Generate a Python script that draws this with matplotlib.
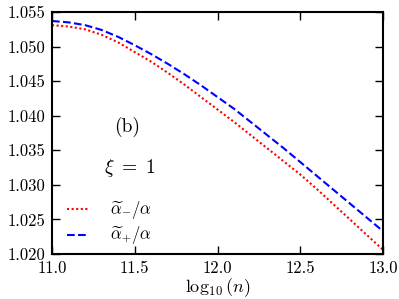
import matplotlib
matplotlib.use("Agg")
import matplotlib.pyplot as plt

plt.rcParams['font.family'] = 'serif'
plt.rcParams['font.serif'] = ['cmr10']
plt.rcParams['mathtext.fontset'] = 'cm'
plt.rcParams['axes.formatter.use_mathtext'] = True

log_n = [11.0, 11.1, 11.2, 11.3, 11.4, 11.5, 11.6, 11.7, 11.8, 11.9, 12.0,
         12.1, 12.2, 12.3, 12.4, 12.5, 12.6, 12.7, 12.8, 12.9, 13.0]
alpha_minus = [1.0531, 1.0529, 1.0525, 1.0517, 1.0506, 1.0492, 1.0478, 1.0462,
               1.0445, 1.0427, 1.0409, 1.0391, 1.0372, 1.0353, 1.0334, 1.0315,
               1.0294, 1.0272, 1.0250, 1.0228, 1.0206]
alpha_plus = [1.0537, 1.0535, 1.0531, 1.0524, 1.0514, 1.0502, 1.0489, 1.0475,
              1.0460, 1.0444, 1.0427, 1.0410, 1.0391, 1.0372, 1.0353, 1.0333,
              1.0313, 1.0293, 1.0273, 1.0253, 1.0233]
xticks = [11.0, 11.5, 12.0, 12.5, 13.0]
yticks = [1.020, 1.025, 1.030, 1.035, 1.040, 1.045, 1.050, 1.055]

fig = plt.figure(figsize=(3.99, 2.99), dpi=100)
ax = fig.add_axes([52/399, 1-254/299, (383-52)/399, (254-12)/299])
ax.plot(log_n, alpha_minus, color='red', linestyle=(0, (1, 1.2)), lw=1.5,
        label=r'$\widetilde{\alpha}_{-}/\alpha$')
ax.plot(log_n, alpha_plus, color='blue', linestyle='--', lw=1.5,
        label=r'$\widetilde{\alpha}_{+}/\alpha$')
ax.set_xlim(11.0, 13.0)
ax.set_ylim(1.020, 1.055)
ax.set_xticks(xticks)
ax.set_xticklabels([f'{v:.1f}' for v in xticks])
ax.set_yticks(yticks)
ax.set_yticklabels([f'{v:.3f}' for v in yticks])
ax.tick_params(direction='in', top=True, right=True, length=6, width=1, labelsize=12, pad=5)
for s in ax.spines.values():
    s.set_linewidth(1.5)
ax.set_xlabel(r'$\log_{10}(n)$', fontsize=13, labelpad=0)
ax.text(11.453, 1.0384, '(b)', fontsize=14, ha='center', va='center')
ax.text(11.471, 1.0324, r'$\xi\ =\ 1$', fontsize=14, ha='center', va='center')
ax.legend(loc='lower left', bbox_to_anchor=(0.0, -0.035), frameon=False, fontsize=12,
          handlelength=1.3, handletextpad=1.3, labelspacing=0.2)
fig.savefig('out.png', dpi=100)
